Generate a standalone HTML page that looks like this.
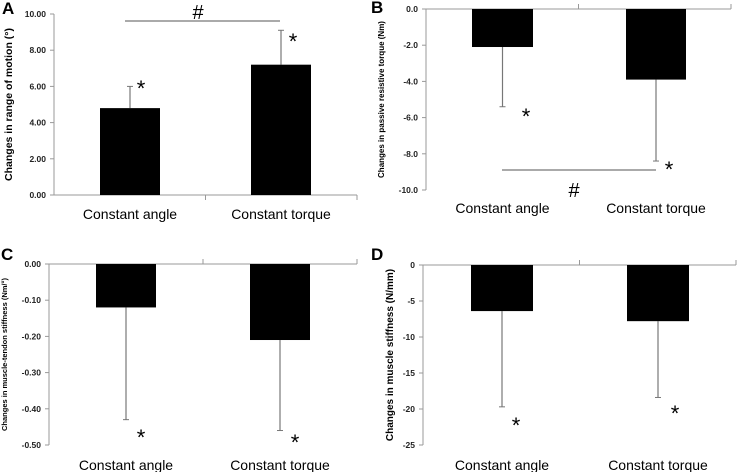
<!DOCTYPE html>
<html><head><meta charset="utf-8"><style>
html,body{margin:0;padding:0;background:#fff;}
svg{display:block;font-family:"Liberation Sans",sans-serif;}
</style></head><body>
<svg id="chart" width="738" height="472" viewBox="0 0 738 472" xmlns="http://www.w3.org/2000/svg"></svg>
<script>
const categories = ["Constant angle", "Constant torque"];
const valuesA = [4.8, 7.2];
const errorsA = [6.0, 9.1];
const valuesB = [-2.1, -3.9];
const errorsB = [-5.4, -8.4];
const valuesC = [-0.12, -0.21];
const errorsC = [-0.43, -0.46];
const valuesD = [-6.4, -7.8];
const errorsD = [-19.7, -18.4];
const ticksA = [0, 2, 4, 6, 8, 10];
const ticksB = [0, -2, -4, -6, -8, -10];
const ticksC = [0, -0.1, -0.2, -0.3, -0.4, -0.5];
const ticksD = [0, -5, -10, -15, -20, -25];

const NS = "http://www.w3.org/2000/svg";
const svg = document.getElementById("chart");
function mk(tag, attrs, parent, text){
  const e = document.createElementNS(NS, tag);
  for (const k in attrs) e.setAttribute(k, attrs[k]);
  if (text !== undefined) e.textContent = text;
  (parent || svg).appendChild(e);
  return e;
}

const panels = [
  {id:"a", letter:"A", vals:valuesA, errs:errorsA, ticks:ticksA, dec:2, min:0, max:10,
   ax:54, yTop:14, yBot:195, xEnd:357, bars:[[100,160],[251,311]], labelY:219,
   title:"Changes in range of motion (°)", titleSize:10.5, titleX:12, letterXY:[2,14],
   stars:[[141,88],[293,41]], hash:{x1:125,x2:280,y:21,tx:198,ty:19}},
  {id:"b", letter:"B", vals:valuesB, errs:errorsB, ticks:ticksB, dec:1, min:-10, max:0,
   ax:426, yTop:9, yBot:190, xEnd:731, bars:[[472,533],[626,686]], labelY:213,
   title:"Changes  in passive resistive torque  (Nm)", titleSize:8, titleX:384, letterXY:[371,13],
   stars:[[526,116],[669,169]], hash:{x1:502,x2:656,y:170,tx:574,ty:197}},
  {id:"c", letter:"C", vals:valuesC, errs:errorsC, ticks:ticksC, dec:2, min:-0.5, max:0,
   ax:49, yTop:264, yBot:445, xEnd:357, bars:[[96,156],[250,310]], labelY:470,
   title:"Changes in  muscle-tendon stiffness (Nm/°)", titleSize:7.5, titleX:7, letterXY:[1,260],
   stars:[[141,437],[295,442]]},
  {id:"d", letter:"D", vals:valuesD, errs:errorsD, ticks:ticksD, dec:0, min:-25, max:0,
   ax:423, yTop:265, yBot:445, xEnd:736, bars:[[471,533],[627,689]], labelY:470,
   title:"Changes in  muscle stiffness (N/mm)", titleSize:10, titleX:393, letterXY:[371,260],
   stars:[[516,425],[675,413]]}
];

panels.forEach(p => {
  const g = mk("g", {});
  
  
  const y = v => p.yBot - (v - p.min) / (p.max - p.min) * (p.yBot - p.yTop);
  const y0 = y(0);
  const lt = mk("text", {x:p.letterXY[0], y:p.letterXY[1], "font-size":17, "font-weight":"bold"}, g, p.letter);
  
  
  const ya = mk("line", {x1:p.ax, x2:p.ax, y1:p.yTop, y2:p.yBot, stroke:"#999", "stroke-width":1}, g);
  
  
  p.ticks.forEach(t => {
    const ty = y(t);
    mk("line", {x1:p.ax-4, x2:p.ax, y1:ty, y2:ty, stroke:"#999"}, g);
    const tl = mk("text", {x:p.ax-8, y:ty+3, "font-size":8.5, "font-weight":"bold", "text-anchor":"end", fill:"#222"}, g, t.toFixed(p.dec));
    
    
  });
  const xa = mk("line", {x1:p.ax, x2:p.xEnd, y1:y0, y2:y0, stroke:"#999"}, g);
  
  
  const mid = (p.ax + p.xEnd) / 2;
  const dir = p.max === 0 ? -1 : 1;
  [mid, p.xEnd].forEach(tx => mk("line", {x1:tx, x2:tx, y1:y0, y2:y0+5*dir, stroke:"#999"}, g));
  const ty = (p.yTop + p.yBot) / 2;
  const tt = mk("text", {x:p.titleX, y:ty, "font-size":p.titleSize, "font-weight":"bold", "text-anchor":"middle", transform:`rotate(-90 ${p.titleX} ${ty})`}, g, p.title);
  
  
  p.vals.forEach((v, i) => {
    const [bx1, bx2] = p.bars[i];
    const cx = (bx1 + bx2) / 2;
    const ey = y(p.errs[i]);
    const el = mk("line", {x1:cx, x2:cx, y1:y(v), y2:ey, stroke:"#777", "stroke-width":1.2}, g);
    
    
    mk("line", {x1:cx-3, x2:cx+3, y1:ey, y2:ey, stroke:"#777"}, g);
    const b = mk("rect", {x:bx1, y:Math.min(y(v), y0), width:bx2-bx1, height:Math.abs(y(v)-y0), fill:"#000"}, g);
    
    
    const cl = mk("text", {x:cx, y:p.labelY, "font-size":14, "text-anchor":"middle"}, g, categories[i]);
    
    
    const st = mk("text", {x:p.stars[i][0], y:p.stars[i][1]+8, "font-size":22, "text-anchor":"middle"}, g, "*");
    
    
  });
  if (p.hash) {
    const h = p.hash;
    const hl = mk("line", {x1:h.x1, x2:h.x2, y1:h.y, y2:h.y, stroke:"#555"}, g);
    
    
    const ht = mk("text", {x:h.tx, y:h.ty, "font-size":20, "text-anchor":"middle"}, g, "#");
    
    
  }
});
</script>
</body></html>
